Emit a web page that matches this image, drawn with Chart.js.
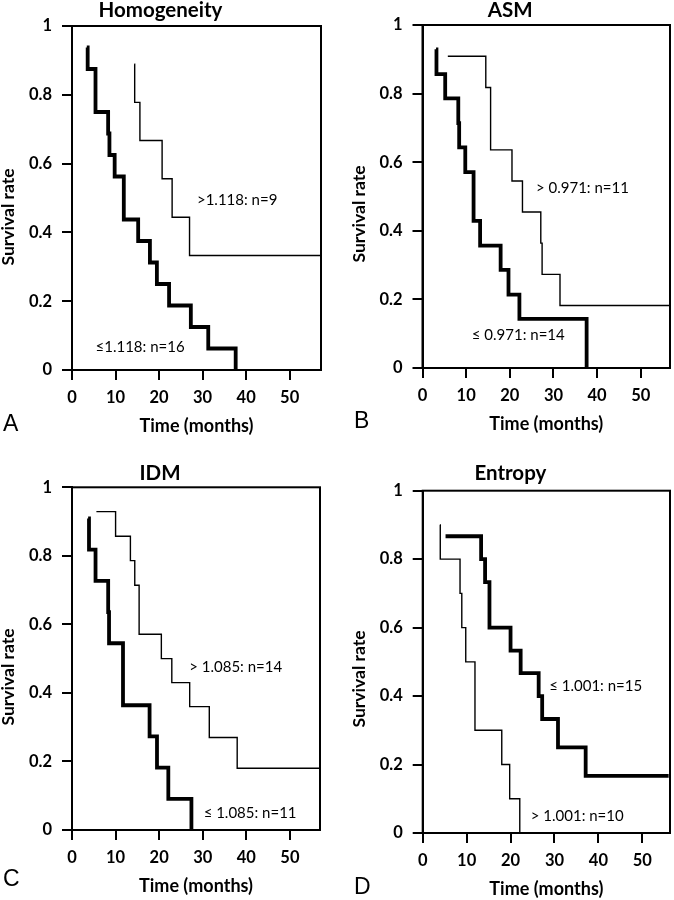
<!DOCTYPE html>
<html>
<head>
<meta charset="utf-8">
<script src="https://cdn.jsdelivr.net/npm/chart.js@4.4.1/dist/chart.umd.min.js"></script>
<style>
  body { margin: 0; background: #fff; }
  #wrap { position: relative; width: 674px; height: 900px; background: #fff; }
  #wrap canvas { position: absolute; }
</style>
</head>
<body>
<div id="wrap">
  <canvas id="panelA" width="337" height="450" style="left:0;top:0"></canvas>
  <canvas id="panelB" width="337" height="450" style="left:337px;top:0"></canvas>
  <canvas id="panelC" width="337" height="450" style="left:0;top:450px"></canvas>
  <canvas id="panelD" width="337" height="450" style="left:337px;top:450px"></canvas>
</div>
<script>
const xTicks = [0, 10, 20, 30, 40, 50];
const yTicks = [0, 0.2, 0.4, 0.6, 0.8, 1];

// Homogeneity
const homoLowTime = [3.4, 3.6, 5.4, 8.3, 8.6, 9.8, 11.9, 15.2, 17.9, 19.5, 22.3, 27.3, 31.3, 37.6];
const homoLowSurv = [0.9375, 0.875, 0.75, 0.6875, 0.625, 0.5625, 0.4375, 0.375, 0.3125, 0.25, 0.1875, 0.125, 0.0625, 0];
const homoHighTime = [14.3, 14.4, 15.6, 20.7, 23.0, 27.0, 57];
const homoHighSurv = [0.889, 0.778, 0.667, 0.556, 0.444, 0.333, 0.333];

// ASM
const asmLowTime = [3.1, 3.2, 5.2, 8.2, 8.4, 9.8, 11.7, 13.2, 17.9, 19.7, 22.2, 37.6];
const asmLowSurv = [0.929, 0.857, 0.786, 0.714, 0.643, 0.571, 0.429, 0.357, 0.286, 0.214, 0.143, 0];
const asmHighTime = [5.8, 14.5, 15.6, 20.5, 22.9, 27.1, 27.4, 31.5, 57];
const asmHighSurv = [0.909, 0.818, 0.636, 0.545, 0.455, 0.364, 0.273, 0.182, 0.182];

// IDM
const idmLowTime = [3.7, 3.9, 5.4, 8.3, 8.5, 11.7, 17.8, 19.5, 22.1, 27.4];
const idmLowSurv = [0.909, 0.818, 0.727, 0.636, 0.545, 0.364, 0.273, 0.182, 0.091, 0];
const idmHighTime = [5.6, 10.0, 13.4, 14.4, 15.4, 20.5, 22.9, 27.0, 31.5, 37.9, 57];
const idmHighSurv = [0.929, 0.857, 0.786, 0.714, 0.571, 0.5, 0.43, 0.36, 0.27, 0.18, 0.18];

// Entropy
const entLowTime = [5.2, 13.3, 14.2, 15.2, 20.0, 22.3, 26.4, 27.2, 30.8, 37.1, 56];
const entLowSurv = [0.867, 0.8, 0.733, 0.6, 0.533, 0.467, 0.4, 0.333, 0.25, 0.167, 0.167];
const entHighTime = [3.9, 4.0, 8.5, 8.9, 9.8, 11.9, 18.0, 19.8, 22.1];
const entHighSurv = [0.9, 0.8, 0.7, 0.6, 0.5, 0.3, 0.2, 0.1, 0];

const FONT = 'Lato, "Open Sans", sans-serif';

const panels = [
  {
    id: 'panelA', title: 'Homogeneity', letter: 'A', xMax: 57.2,
    pad: { left: 0, right: 16, top: 0, bottom: 13 }, titleGap: 5.5,
    thick: [homoLowTime, homoLowSurv], thin: [homoHighTime, homoHighSurv],
    notes: [['>1.118: n=9', 28.7, 0.494], ['\u22641.118: n=16', 5.4, 0.067]],
    yLabelPos: [8.5, 217], letterPos: [3, 425]
  },
  {
    id: 'panelB', title: 'ASM', letter: 'B', xMax: 56.7,
    pad: { left: 13.5, right: 4, top: 0, bottom: 15 }, titleGap: 4.5,
    thick: [asmLowTime, asmLowSurv], thin: [asmHighTime, asmHighSurv],
    notes: [['> 0.971: n=11', 26.0, 0.524], ['\u2264 0.971: n=14', 11.3, 0.097]],
    yLabelPos: [22.5, 214], letterPos: [17, 422]
  },
  {
    id: 'panelC', title: 'IDM', letter: 'C', xMax: 56.9,
    pad: { left: 0, right: 17, top: 13, bottom: 3 }, titleGap: 3.8,
    thick: [idmLowTime, idmLowSurv], thin: [idmHighTime, idmHighSurv],
    notes: [['> 1.085: n=14', 26.9, 0.475], ['\u2264 1.085: n=11', 30.2, 0.049]],
    yLabelPos: [8.5, 227], letterPos: [3, 430]
  },
  {
    id: 'panelD', title: 'Entropy', letter: 'D', xMax: 56.3,
    pad: { left: 13.7, right: 4, top: 13, bottom: 0 }, titleGap: 7.2,
    thick: [entLowTime, entLowSurv], thin: [entHighTime, entHighSurv],
    notes: [['\u2264 1.001: n=15', 28.8, 0.429], ['> 1.001: n=10', 24.6, 0.049]],
    yLabelPos: [22.7, 229], letterPos: [17, 438]
  }
];

// frame around the plot plus the free texts of each panel
const panelText = {
  id: 'panelText',
  afterDraw(chart, args, opts) {
    const { ctx, chartArea: a, scales } = chart;
    ctx.save();
    ctx.strokeStyle = '#000';
    ctx.lineWidth = 2;
    ctx.strokeRect(a.left, a.top, a.right - a.left, a.bottom - a.top);

    ctx.fillStyle = '#000';
    ctx.font = '15px ' + FONT;
    ctx.textAlign = 'left';
    ctx.textBaseline = 'middle';
    opts.notes.forEach(([txt, x, y]) => {
      ctx.fillText(txt, scales.x.getPixelForValue(x), scales.y.getPixelForValue(y));
    });

    ctx.font = 'bold 17.5px ' + FONT;
    ctx.textAlign = 'center';
    ctx.translate(opts.yLabelPos[0], opts.yLabelPos[1]);
    ctx.rotate(-Math.PI / 2);
    ctx.fillText('Survival rate', 0, 0);
    ctx.setTransform(1, 0, 0, 1, 0, 0);

    ctx.font = '23px "Liberation Sans", Arial, sans-serif';
    ctx.textAlign = 'left';
    ctx.fillText(opts.letter, opts.letterPos[0], opts.letterPos[1]);
    ctx.restore();
  }
};

function curve(pair, width) {
  const [t, s] = pair;
  return {
    data: t.map((x, i) => ({ x: x, y: s[i] })),
    borderColor: '#000',
    borderWidth: width,
    pointRadius: 0,
    stepped: 'before',
    fill: false,
    borderCapStyle: 'butt',
    borderJoinStyle: 'miter'
  };
}

const axisGrid = { drawOnChartArea: false, drawTicks: true, tickLength: 10, color: '#000', lineWidth: 2 };
const axisBorder = { display: true, color: '#000', width: 2 };
const tickFont = { family: FONT, size: 16.5, weight: 'bold' };

for (const p of panels) {
  new Chart(document.getElementById(p.id), {
    type: 'line',
    data: { datasets: [curve(p.thin, 1.4), curve(p.thick, 3.8)] },
    options: {
      responsive: false,
      animation: false,
      events: [],
      layout: { padding: p.pad },
      plugins: {
        legend: { display: false },
        tooltip: { enabled: false },
        title: {
          display: true,
          text: p.title,
          color: '#000',
          font: { family: FONT, size: 20.5, weight: 'bold', lineHeight: 1 },
          padding: { top: 0, bottom: p.titleGap }
        },
        panelText: { notes: p.notes, yLabelPos: p.yLabelPos, letter: p.letter, letterPos: p.letterPos }
      },
      scales: {
        x: {
          type: 'linear',
          min: 0,
          max: p.xMax,
          afterBuildTicks: s => { s.ticks = xTicks.map(v => ({ value: v })); },
          afterFit: s => { s.height = 67; },
          grid: axisGrid,
          border: axisBorder,
          ticks: { color: '#000', font: tickFont, padding: 8, maxRotation: 0, callback: v => String(v) },
          title: {
            display: true,
            text: 'Time (months)',
            color: '#000',
            font: { family: FONT, size: 18, weight: 'bold' },
            padding: { top: 0, bottom: 0 }
          }
        },
        y: {
          type: 'linear',
          min: 0,
          max: 1,
          afterBuildTicks: s => { s.ticks = yTicks.map(v => ({ value: v })); },
          afterFit: s => { s.width = 72; },
          grid: axisGrid,
          border: axisBorder,
          ticks: { color: '#000', font: tickFont, padding: 10, callback: v => String(v) }
        }
      }
    },
    plugins: [panelText]
  });
}
</script>
</body>
</html>
